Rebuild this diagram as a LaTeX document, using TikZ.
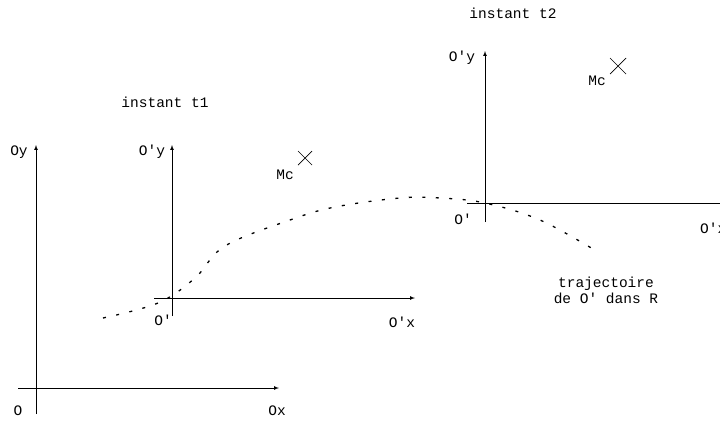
\documentclass[tikz,border=0pt]{standalone}
\usepackage{fontspec}
\setmonofont{Liberation Mono}
\usetikzlibrary{arrows,calc}

\begin{document}
\begin{tikzpicture}[
  x=1pt, y=-1pt,
  every node/.style={font=\ttfamily\fontsize{14.5}{16}\selectfont, inner sep=0pt},
  axis/.style={draw, line width=0.7pt, -latex},
  axisend/.style={draw, line width=0.7pt},
  traj/.style={draw, line width=1.3pt, dash pattern=on 3pt off 10.5pt},
  crossmark/.style={line width=0.7pt}
]
\useasboundingbox (0,0) rectangle (720,421);
% repere fixe R
\coordinate (o) at (36,388);
\coordinate (oxs) at (18,388);
\coordinate (oxe) at (279,388);
\coordinate (oys) at (36,414);
\coordinate (oye) at (36,145);
\draw[axis] (oxs) -- (oxe);
\draw[axis] (oys) -- (oye);
\node (lo) at (18,411) {O};
\node (lox) at (277,411) {Ox};
\node (loy) at (19,152) {Oy};

% instant t1
\coordinate (pa) at (172,298);
\coordinate (paxs) at (154,298);
\coordinate (paxe) at (415,298);
\coordinate (pays) at (172,316);
\coordinate (paye) at (172,145);
\draw[axis] (paxs) -- (paxe);
\draw[axis] (pays) -- (paye);
\node (lpa) at (163,320) {O'};
\node (lpax) at (402,322) {O'x};
\node (lpay) at (152,152) {O'y};
\node (ta) at (165,102) {instant t1};
\coordinate (ma) at (305,158);
\draw[crossmark] ($(ma)+(-7,-7)$) -- ($(ma)+(7,7)$) ($(ma)+(-7,7)$) -- ($(ma)+(7,-7)$);
\node (lma) at (285,175) {Mc};

% instant t2
\coordinate (pb) at (485,203);
\coordinate (pbxs) at (467,203);
\coordinate (pbxe) at (740,203);
\coordinate (pbys) at (485,222);
\coordinate (pbye) at (485,51);
\draw[axisend] (pbxs) -- (pbxe);
\draw[axis] (pbys) -- (pbye);
\node (lpb) at (463,219) {O'};
\node[anchor=west] (lpbx) at (700,228) {O'x};
\node (lpby) at (462,58) {O'y};
\node (tb) at (513,13) {instant t2};
\coordinate (mb) at (618,66);
\draw[crossmark] ($(mb)+(-8,-8)$) -- ($(mb)+(8,8)$) ($(mb)+(-8,8)$) -- ($(mb)+(8,-8)$);
\node (lmb) at (597,81) {Mc};

% trajectoire de O'
\draw[traj] plot[smooth, tension=0.6] coordinates {(103,318) (158,303) (195,278) (225,246) (290,220) (335,207) (400,198) (440,198) (485,203) (540,220) (598,252)};
\node[align=center] (ltr) at (606,290) {trajectoire\\de O' dans R};
\end{tikzpicture}
\end{document}
